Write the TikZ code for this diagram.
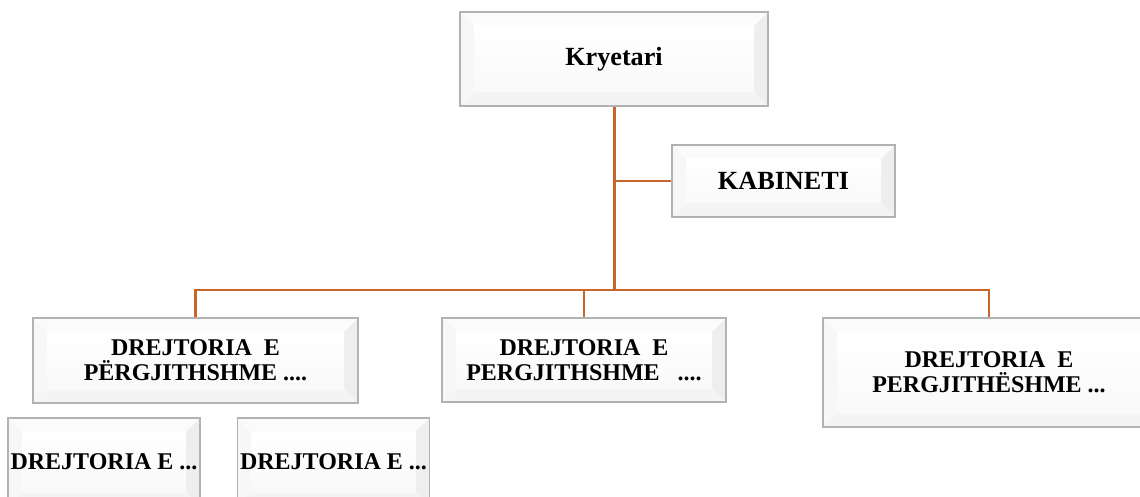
\documentclass[tikz,border=0pt]{standalone}
\usepackage{fontspec}
\setmainfont{Liberation Serif}
\usetikzlibrary{calc}
\definecolor{linkbrown}{RGB}{200,102,42}
\def\bev{7pt}
\tikzset{
	bevelbox/.style={draw=gray!60, line width=0.8pt, fill=white, align=center, inner sep=0pt,
		font=\bfseries\fontsize{12}{12.5}\selectfont,
		path picture={
			\coordinate (bl) at (path picture bounding box.south west);
			\coordinate (tr) at (path picture bounding box.north east);
			\coordinate (br) at (bl -| tr);
			\coordinate (tl) at (bl |- tr);
			\coordinate (ibl) at ($(bl)+(\bev,\bev)$);
			\coordinate (itr) at ($(tr)+(-\bev,-\bev)$);
			\coordinate (ibr) at (ibl -| itr);
			\coordinate (itl) at (ibl |- itr);
			\fill[gray!3] (tl) -- (tr) -- (itr) -- (itl) -- cycle;
			\fill[gray!6] (bl) -- (tl) -- (itl) -- (ibl) -- cycle;
			\fill[gray!13] (br) -- (tr) -- (itr) -- (ibr) -- cycle;
			\fill[gray!9] (bl) -- (br) -- (ibr) -- (ibl) -- cycle;
			\shade[top color=white, bottom color=gray!5] (ibl) rectangle (itr);
		}},
	bigtext/.style={font=\bfseries\fontsize{13.1}{14}\selectfont},
	trunk/.style={draw=linkbrown, line width=1.5pt},
	branch/.style={draw=linkbrown, line width=1.1pt}
}

\begin{document}
\begin{tikzpicture}[x=0.5pt, y=-0.5pt]
	\useasboundingbox (0,0) rectangle (1140,497);
	\clip (0,0) rectangle (1140,497);
	\node[bevelbox, bigtext, minimum width=154pt, minimum height=47pt] (kryetari) at (614,59) {Kryetari};
	\node[bevelbox, bigtext, minimum width=111.5pt, minimum height=36pt] (kabineti) at (783.5,181) {KABINETI};
	\node[bevelbox, minimum width=162.5pt, minimum height=42.5pt] (drejt1) at (195.5,360.5) {DREJTORIA\ \ E\\PËRGJITHSHME ....};
	\node[bevelbox, minimum width=142pt, minimum height=42pt] (drejt2) at (584,360) {DREJTORIA\ \ E\\PERGJITHSHME\ \ \ ....};
	\node[bevelbox, minimum width=166pt, minimum height=54.5pt] (drejt3) at (989,372.5) {DREJTORIA\ \ E\\PERGJITHËSHME ...};
	\node[bevelbox, minimum width=96pt, minimum height=44pt] (sub1) at (104,462) {DREJTORIA E ...};
	\node[bevelbox, minimum width=96pt, minimum height=44pt] (sub2) at (333.5,462) {DREJTORIA E ...};
	\path (kryetari.south) ++(0,183) coordinate (bus);
	\draw[branch] (kryetari.south |- kabineti.west) -- (kabineti.west);
	\draw[branch] (drejt1.north) |- (bus) -| (drejt3.north);
	\draw[branch] (drejt2.north |- bus) -- (drejt2.north);
	\draw[trunk] (kryetari.south) -- (bus);
\end{tikzpicture}
\end{document}
